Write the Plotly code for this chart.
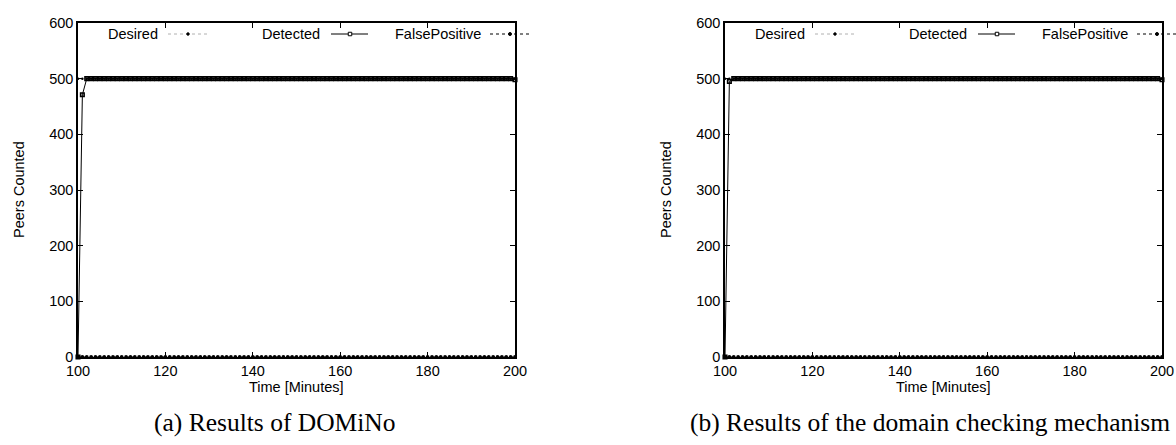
import plotly.graph_objects as go

W, H = 1176, 445

# Time axis in minutes, one sample per minute
minutes = list(range(100, 201))

# Panel (a): DOMiNo
desired_a = [500] * 101
detected_a = [0, 471] + [500] * 98 + [498]
falsepos_a = [0] * 101

# Panel (b): domain checking mechanism
desired_b = [500] * 101
detected_b = [0, 495] + [500] * 98 + [498]
falsepos_b = [0] * 101

captions = ["(a) Results of DOMiNo", "(b) Results of the domain checking mechanism"]
legend_names = ["Desired", "Detected", "FalsePositive"]
x_ticks = [100, 120, 140, 160, 180, 200]
y_ticks = [0, 100, 200, 300, 400, 500, 600]

SANS = "Liberation Sans, Arial, Helvetica, sans-serif"
SERIF = "Liberation Serif, Times New Roman, serif"
FS = 14.5

# pixel layout of the two plotting areas
LEFT = [(78, 515), (725, 1162)]
TOP, BOTTOM = 23, 357
CAPTION_X = [274.5, 930]


def px(x):
    return x / W


def py(y):
    return 1 - y / H


fig = go.Figure()

panels = [(desired_a, detected_a, falsepos_a), (desired_b, detected_b, falsepos_b)]
for i, (des, det, fp) in enumerate(panels):
    xa = "x" if i == 0 else "x2"
    ya = "y" if i == 0 else "y2"
    fig.add_trace(go.Scatter(
        x=minutes, y=des, xaxis=xa, yaxis=ya, mode="lines+markers",
        line=dict(color="#b0b0b0", width=1, dash="dot"),
        marker=dict(symbol="circle", size=2.5, color="black"),
        showlegend=False, cliponaxis=False))
    fig.add_trace(go.Scatter(
        x=minutes, y=fp, xaxis=xa, yaxis=ya, mode="lines+markers",
        line=dict(color="black", width=1, dash="dot"),
        marker=dict(symbol="circle", size=3.8, color="black"),
        showlegend=False, cliponaxis=False))
    fig.add_trace(go.Scatter(
        x=minutes, y=det, xaxis=xa, yaxis=ya, mode="lines+markers",
        line=dict(color="black", width=1),
        marker=dict(symbol="square-open", size=3.5, color="black",
                    line=dict(width=1.6, color="black")),
        showlegend=False, cliponaxis=False))

axis_common = dict(
    showgrid=False, zeroline=False, showline=True, linecolor="black",
    linewidth=1.5, mirror="ticks", ticks="inside", ticklen=5, tickwidth=1,
    tickcolor="black", tickfont=dict(family=SANS, size=FS, color="black"),
    automargin=False,
)

layout = dict(
    width=W, height=H, margin=dict(l=0, r=0, t=0, b=0, autoexpand=False),
    paper_bgcolor="white", plot_bgcolor="white", showlegend=False,
)
for i in range(2):
    sx = "" if i == 0 else "2"
    l, r = LEFT[i]
    layout["xaxis" + sx] = dict(
        axis_common, domain=[px(l), px(r)], range=[100, 200],
        tickvals=x_ticks, anchor="y" + sx)
    layout["yaxis" + sx] = dict(
        axis_common, domain=[py(BOTTOM), py(TOP)], range=[0, 600],
        tickvals=y_ticks, anchor="x" + sx)
fig.update_layout(**layout)

annotations = []
shapes = []
for i in range(2):
    l, r = LEFT[i]
    cx = (l + r) / 2
    # axis titles
    annotations.append(dict(
        text="Time [Minutes]", x=px(cx), y=py(387), xref="paper", yref="paper",
        showarrow=False, xanchor="center", yanchor="middle",
        font=dict(family=SANS, size=FS, color="black")))
    annotations.append(dict(
        text="Peers Counted", x=px(l - 59), y=py((TOP + BOTTOM) / 2),
        xref="paper", yref="paper", textangle=-90, showarrow=False,
        xanchor="center", yanchor="middle",
        font=dict(family=SANS, size=FS, color="black")))
    # sub-figure caption
    annotations.append(dict(
        text=captions[i], x=px(CAPTION_X[i]), y=py(422),
        xref="paper", yref="paper", showarrow=False,
        xanchor="center", yanchor="middle",
        font=dict(family=SERIF, size=25.5, color="black")))

    # key: label followed by its sample
    dref = ("x" if i == 0 else "x2") + " domain"
    ky = py(34)
    keys = [
        (legend_names[0], 160, 168, 210, 188, dict(color="#b0b0b0", width=1, dash="dot"), 2.5),
        (legend_names[1], 322, 331, 368, 350, dict(color="black", width=1), 3.5),
        (legend_names[2], 483, 490, 530, 510, dict(color="black", width=1, dash="dot"), 3),
    ]
    for name, tx, s0, s1, mx, ln, ms in keys:
        annotations.append(dict(
            text=name, x=(tx - 78) / 437, y=ky, xref=dref, yref="paper",
            showarrow=False, xanchor="right", yanchor="middle",
            font=dict(family=SANS, size=FS, color="black")))
        shapes.append(dict(
            type="line", xref=dref, yref="paper",
            x0=(s0 - 78) / 437, x1=(s1 - 78) / 437, y0=ky, y1=ky, line=ln))
        shapes.append(dict(
            type="rect" if name == "Detected" else "circle",
            xref=dref, yref="paper", xsizemode="pixel", ysizemode="pixel",
            xanchor=(mx - 78) / 437, yanchor=ky,
            x0=-ms / 2, x1=ms / 2, y0=-ms / 2, y1=ms / 2,
            line=dict(color="black", width=1),
            fillcolor="white" if name == "Detected" else "black"))

fig.update_layout(annotations=annotations, shapes=shapes)
fig.write_html("out.html")
